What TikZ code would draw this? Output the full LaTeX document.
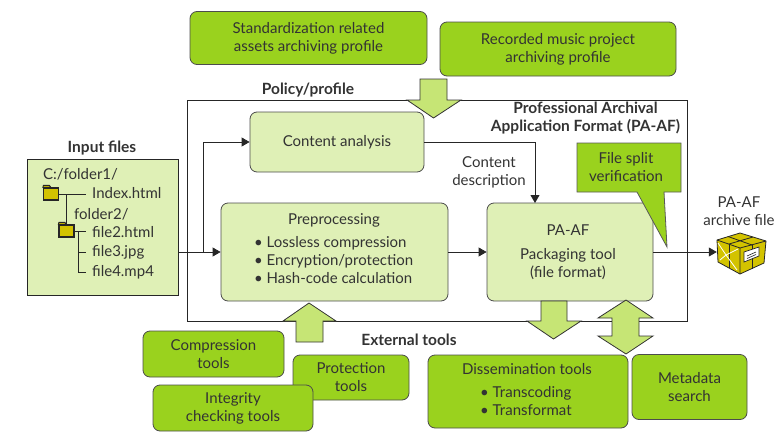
\documentclass[tikz,border=0pt]{standalone}
\usepackage{fontspec}
\setmainfont{Lato}
\usetikzlibrary{arrows.meta}
\definecolor{toolgreen}{HTML}{9AD21E}
\definecolor{palegreen}{HTML}{DFF0B6}
\definecolor{arrowgreen}{HTML}{C6E575}
\definecolor{inkgrey}{HTML}{333333}
\definecolor{parcelgold}{HTML}{D3C300}

\begin{document}
\begin{tikzpicture}[x=1pt,y=-1pt,>={Triangle[length=8pt,width=9pt]},
                    font=\fontsize{15}{18}\selectfont,text=inkgrey,
                    line/.style={draw=black!85,line width=0.8pt},
                    box/.style={draw=black!70,line width=0.8pt,rounded corners=7pt,inner sep=0pt,
                                align=center},
                    toolbox/.style={box,fill=toolgreen},
                    stagebox/.style={box,fill=palegreen},
                    word/.style={inner sep=0pt,align=center},
                    title/.style={word,font=\fontsize{15.5}{18}\selectfont\bfseries},
                    filename/.style={anchor=west,inner xsep=6pt,inner ysep=0pt},
                    blockarrow/.style={draw=black!80,line width=0.8pt,fill=arrowgreen,line join=miter},
                    folder/.style={draw=black!85,line width=1.2pt,fill=parcelgold,inner sep=0pt,
                                   minimum width=15pt,minimum height=12pt}]

  \useasboundingbox (0,0) rectangle (780,445);

  % profiles
  \node[toolbox,minimum width=237pt,minimum height=53pt] (stdprofile) at (308.5,38)
        {Standardization related\\assets archiving profile};
  \node[toolbox,minimum width=236pt,minimum height=54pt] (musicprofile) at (558,49)
        {Recorded music project\\archiving profile};
  \node[title] (policy) at (308,90) {Policy/profile};

  % PA-AF frame
  \node[draw=black!85,line width=0.8pt,inner sep=0pt,minimum width=500pt,minimum height=221pt]
        (frame) at (437,210.5) {};
  \node[title] (frametitle) at (585.5,118.5) {Professional Archival\\Application Format (PA-AF)};

  % input files
  \node[title] (inputtitle) at (102,148) {Input files};
  \node[draw=black!85,line width=0.8pt,fill=palegreen,inner sep=0pt,minimum width=151pt,minimum height=136pt]
        (inputbox) at (102.5,227) {};
  \node[word] (rootdir) at (43,174) [anchor=west] {C:/folder1/};
  \node[word] (subdir) at (74,214) [anchor=west] {folder2/};
  \node[filename] (indexfile) at (86,193) {Index.html};
  \node[filename] (filetwo) at (86,232) {file2.html};
  \node[filename] (filethree) at (86,252) {file3.jpg};
  \node[filename] (filefour) at (86,272) {file4.mp4};
  \node[folder] (foldera) at (51,194) {};
  \node[folder] (folderb) at (66.5,231) {};
  \foreach \f in {foldera,folderb}
    \draw[draw=black!85,line width=0.9pt,fill=parcelgold] (\f.north west) -- ++(0.5,-2) -- ++(6,0) -- ++(1.5,2) -- cycle;
  \coordinate (trunk) at (78,232);

  \draw[line] (foldera.east) -- (foldera.east -| indexfile.west);
  \draw[line] (folderb.north) -- (folderb.north |- foldera.east);
  \draw[line] (folderb.east) -- (folderb.east -| filetwo.west);
  \draw[line] (trunk) |- (filethree.west);
  \draw[line] (trunk) |- (filefour.west);

  % stages
  \node[stagebox,minimum width=174pt,minimum height=60pt] (analysis) at (337,142) {Content analysis};
  \node[stagebox,minimum width=227pt,minimum height=98pt] (preproc) at (334.5,252) {};
  \node[stagebox,minimum width=166pt,minimum height=98pt] (packer) at (570,252) {};
  \node[word] (preproctitle) at (334,220) {Preprocessing};
  \node[word,align=left] (preproclist) at (254,260) [anchor=west]
        {\textbullet\ Lossless compression\\\textbullet\ Encryption/protection\\\textbullet\ Hash-code calculation};
  \node[word] (packertitle) at (568,230) {PA-AF};
  \node[word] (packertext) at (568,264) {Packaging tool\\(file format)};
  \node[word] (contentlabel) at (489,172) {Content\\description};

  % file split callout
  \draw[draw=black!65,line width=0.8pt,fill=toolgreen,line join=miter]
        (577,143) -- (681,143) -- (681,192) -- (664,192) -- (667,247) -- (637,192) -- (577,192) -- cycle;
  \node[word] (splitlabel) at (626,167) {File split\\verification};

  % archive parcel
  \node[word] (archivelabel) at (739,211) {PA-AF\\archive file};
  \node[inner sep=0pt,minimum width=49pt,minimum height=41pt] (parcel) at (741.5,252) {};
  \draw[line,fill=parcelgold,line join=round]
        (717,240) -- (740,233) -- (766,241) -- (764,263) -- (740,274) -- (718,262) -- cycle;
  \draw[line] (717,240) -- (740,248) -- (766,241) (740,248) -- (740,274);
  \draw[line] (728,236.5) -- (752,245) (753,237) -- (729,244);
  \draw[line] (729,244) -- (729,268) (752,245) -- (752,269);
  \draw[white,line width=0.8pt] (718,243) -- (726,255) -- (738,249) (726,255) -- (720,260) (726,255) -- (737,270);
  \draw[draw=black!85,fill=white,line width=0.7pt] (744,252) -- (759,247) -- (759,256) -- (744,262) -- cycle;
  \draw[black!85,line width=0.6pt] (747,256) -- (756,252) (747,258.5) -- (756,254.5);

  % external tools
  \node[title] (externaltitle) at (409,340) {External tools};
  \node[toolbox,minimum width=141pt,minimum height=46pt] (compress) at (213.5,354) {Compression\\tools};
  \node[toolbox,minimum width=116pt,minimum height=45pt] (protect) at (351,377.5) {Protection\\tools};
  \node[toolbox,minimum width=160pt,minimum height=46pt] (integrity) at (233,408) {Integrity\\checking tools};
  \node[toolbox,minimum width=200pt,minimum height=73pt] (dissem) at (528,391.5) {};
  \node[word] (dissemtitle) at (527,369) {Dissemination tools};
  \node[word,align=left] (dissemlist) at (480,401.5) [anchor=west] {\textbullet\ Transcoding\\\textbullet\ Transformat};
  \node[toolbox,minimum width=115pt,minimum height=65pt] (metadata) at (689.5,387) {Metadata\\search};

  % block arrows
  \draw[blockarrow] (420,79) -- (447,79) -- (447,100) -- (461,100) -- (433.5,118) -- (407,100) -- (420,100) -- cycle;
  \draw[blockarrow] (309,303) -- (336,321) -- (323,321) -- (323,342) -- (296,342) -- (296,321) -- (283,321) -- cycle;
  \draw[blockarrow] (541,301) -- (567,301) -- (567,321) -- (581,321) -- (553.5,339) -- (527,321) -- (541,321) -- cycle;
  \draw[blockarrow] (626,300) -- (653,318) -- (639,318) -- (639,336) -- (653,336) -- (626,354) -- (598,336)
        -- (612,336) -- (612,318) -- (598,318) -- cycle;

  % connectors
  \draw[line,->] (preproc.west -| inputbox.east) -- (preproc.west);
  \coordinate (branch) at (203,252);
  \draw[line,->] (branch) |- (analysis.west);
  \coordinate (packerin) at (535,203);
  \draw[line,->] (analysis.east) -| (packerin);
  \draw[line,->] (preproc.east) -- (packer.west);
  \draw[line,->] (packer.east) -- (parcel.west);
\end{tikzpicture}
\end{document}
